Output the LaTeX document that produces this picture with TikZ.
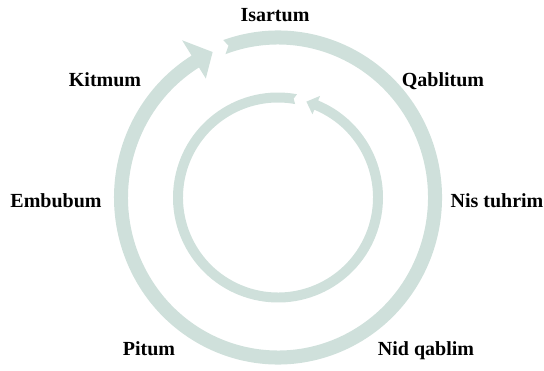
\documentclass[tikz,border=0pt]{standalone}
\usepackage{fontspec}
\setmainfont{Liberation Serif}
\usetikzlibrary{calc}
\definecolor{ringcol}{RGB}{207,224,219}
\begin{document}
\begin{tikzpicture}[x=1pt,y=1pt,
  lbl/.style={font=\fontsize{20}{22}\selectfont\bfseries, inner sep=0pt, anchor=base},
  band/.style={fill=ringcol, draw=none}]
\useasboundingbox (0,0) rectangle (544,370);
\coordinate (c) at (278,172.5);
% outer clockwise arrow
\fill[band] ($(c)+(109.5:164 and 167)$)
  arc[start angle=109.5, end angle=-238.2, x radius=164, y radius=167]
  -- ($(c)+(121.8:182 and 185)$)
  -- ($(c)+(114.6:157 and 160)$)
  -- ($(c)+(121.8:137 and 140)$)
  -- ($(c)+(121.8:150 and 153)$)
  arc[start angle=-238.2, end angle=110.5, x radius=150, y radius=153]
  -- ($(c)+(108.4:157 and 160)$) -- cycle;
% inner counter-clockwise arrow
\fill[band] ($(c)+(79.6:105)$)
  arc[start angle=79.6, end angle=427.5, radius=105]
  -- ($(c)+(67.5:110)$)
  -- ($(c)+(73.5:100)$)
  -- ($(c)+(67.5:90)$)
  -- ($(c)+(67.5:95)$)
  arc[start angle=427.5, end angle=79.6, radius=95]
  -- ($(c)+(81:100)$) -- cycle;
% labels
\node[lbl] (isartum) at (275,348) {Isartum};
\node[lbl] (kitmum) at (105,283) {Kitmum};
\node[lbl] (qablitum) at (443,283) {Qablitum};
\node[lbl] (embubum) at (56,162) {Embubum};
\node[lbl] (nistuhrim) at (497,162) {Nis tuhrim};
\node[lbl] (pitum) at (149,15) {Pitum};
\node[lbl] (nidqablim) at (426,15) {Nid qablim};
\end{tikzpicture}
\end{document}
